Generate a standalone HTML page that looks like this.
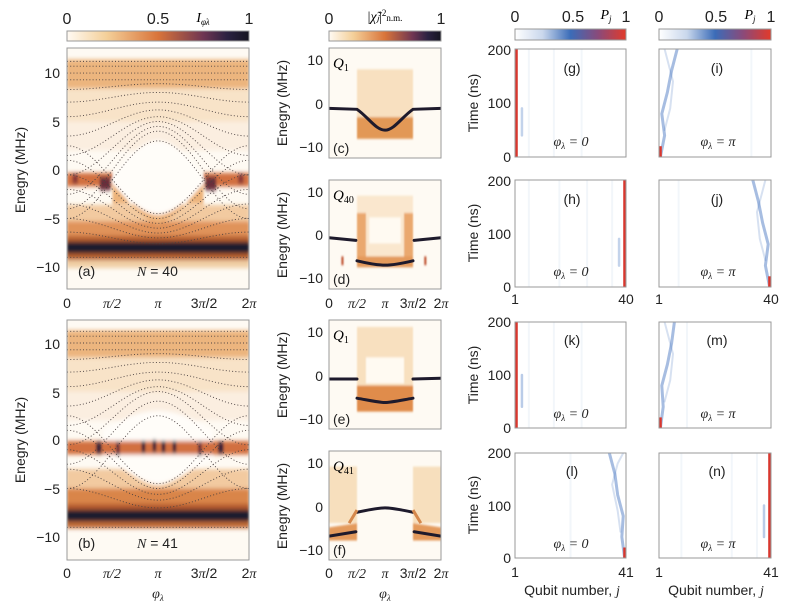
<!DOCTYPE html>
<html><head><meta charset="utf-8"><style>
html,body{margin:0;padding:0;background:#fff;}
svg{display:block;font-family:"Liberation Sans",sans-serif;}
.t{font-size:14px;fill:#222;}
.cb{font-size:16px;fill:#222;}
.it{font-family:"Liberation Serif",serif;font-style:italic;}
.d{fill:none;stroke:#4a4040;stroke-width:0.9;stroke-dasharray:1 2.2;vector-effect:non-scaling-stroke;}
.ln{fill:none;stroke:#1e1a2c;stroke-width:3;vector-effect:non-scaling-stroke;stroke-linecap:round}
.bl{fill:none;stroke:#3d6fbe;vector-effect:non-scaling-stroke;stroke-linecap:round}
.fr{fill:none;stroke:#999;stroke-width:1}
</style></head><body>
<svg width="789" height="612" viewBox="0 0 789 612" xmlns="http://www.w3.org/2000/svg">
<defs>
<linearGradient id="go" x1="0" x2="1" y1="0" y2="0">
<stop offset="0" stop-color="#fffaf3"/><stop offset="0.22" stop-color="#f4cf98"/><stop offset="0.5" stop-color="#d9743a"/><stop offset="0.75" stop-color="#6e3552"/><stop offset="0.88" stop-color="#2c2242"/><stop offset="1" stop-color="#151520"/>
</linearGradient>
<linearGradient id="gb" x1="0" x2="1" y1="0" y2="0">
<stop offset="0" stop-color="#ffffff"/><stop offset="0.25" stop-color="#c9d7ec"/><stop offset="0.5" stop-color="#3b6cb8"/><stop offset="0.75" stop-color="#8a4a7a"/><stop offset="1" stop-color="#e23a2a"/>
</linearGradient>
<filter id="fb" filterUnits="userSpaceOnUse" x="-10" y="-16" width="120" height="32"><feGaussianBlur stdDeviation="0.8 0.22"/></filter>
</defs>

<!-- colorbars -->
<rect x="67" y="31" width="182" height="10" fill="url(#go)" stroke="#999"/>
<text class="cb" x="67" y="24" text-anchor="middle">0</text>
<text class="cb" x="158" y="24" text-anchor="middle">0.5</text>
<text class="cb" x="249" y="24" text-anchor="middle">1</text>
<text class="it" x="203" y="22" font-size="14" text-anchor="middle">I<tspan font-size="9" dy="3">φλ</tspan></text>

<rect x="329" y="31" width="112" height="10" fill="url(#go)" stroke="#999"/>
<text class="cb" x="329" y="24" text-anchor="middle">0</text>
<text class="cb" x="441" y="24" text-anchor="middle">1</text>
<text x="385" y="21" font-size="14" text-anchor="middle" font-family="Liberation Serif,serif">|<tspan font-style="italic">χ̃ⱼ</tspan>|<tspan font-size="9" dy="-5">2</tspan><tspan font-size="9" dy="5">n.m.</tspan></text>

<rect x="515" y="29" width="111" height="11" fill="url(#gb)" stroke="#999"/>
<text class="cb" x="515" y="22" text-anchor="middle">0</text>
<text class="cb" x="573" y="22" text-anchor="middle">0.5</text>
<text class="cb" x="626" y="22" text-anchor="middle">1</text>
<text class="it" x="606" y="19" font-size="14" text-anchor="middle">P<tspan font-size="9" dy="3">j</tspan></text>

<rect x="659" y="29" width="112" height="11" fill="url(#gb)" stroke="#999"/>
<text class="cb" x="659" y="22" text-anchor="middle">0</text>
<text class="cb" x="716" y="22" text-anchor="middle">0.5</text>
<text class="cb" x="771" y="22" text-anchor="middle">1</text>
<text class="it" x="750" y="19" font-size="14" text-anchor="middle">P<tspan font-size="9" dy="3">j</tspan></text>

<!-- Panel a -->
<svg x="67" y="48" width="182" height="241" viewBox="0 -12.58 100 24.85" preserveAspectRatio="none">
<rect x="0" y="-12.6" width="100" height="25" fill="#fefaf3"/>
<g filter="url(#fb)">
<rect x="0" y="-11.4" width="100" height="3" fill="#ecb57e"/>
<rect x="0" y="-8.4" width="100" height="3.5" fill="#f8e3c8"/>
<rect x="0" y="-5" width="100" height="3" fill="#fbeee0"/>
<rect x="0" y="3.6" width="100" height="2" fill="#f2caa0"/>
<rect x="0" y="5.3" width="100" height="2" fill="#e0935a"/>
<rect x="0" y="6.8" width="100" height="0.8" fill="#b8602f"/>
<rect x="0" y="7.4" width="100" height="1.3" fill="#1f1a2e"/>
<rect x="0" y="8.6" width="100" height="0.7" fill="#b8602f"/>
<rect x="0" y="9.3" width="100" height="0.8" fill="#f1cfa5"/>
<rect x="0" y="0.3" width="25" height="1.4" fill="#d27040"/>
<rect x="75" y="0.3" width="25" height="1.4" fill="#d27040"/>
<rect x="18" y="0.7" width="6" height="1.4" fill="#6b2f3a"/>
<rect x="76" y="0.7" width="6" height="1.4" fill="#6b2f3a"/>
<rect x="3" y="0.4" width="3" height="1" fill="#8b3a38"/>
<rect x="94" y="0.4" width="3" height="1" fill="#8b3a38"/>
<path d="M25,1.4 C33,3 42,5.2 50,5.5 C58,5.2 67,3 75,1.4 L75,3.5 L25,3.5Z" fill="#edb47c"/>
<path d="M24,1.2 C33,-1.5 42,-3 50,-3 C58,-3 67,-1.5 76,1.2 C67,3 58,4.6 50,4.6 C42,4.6 33,3 24,1.2 Z" fill="#fffdf9"/>
</g>
<g>
<path class="d" d="M0,-2.5 C18.2,-2.5 31.8,4.5 50,4.5 C68.2,4.5 81.8,-2.5 100,-2.5"/>
<path class="d" d="M0,-1 C18.2,-1 31.8,5 50,5 C68.2,5 81.8,-1 100,-1"/>
<path class="d" d="M0,0.5 C18.2,0.5 31.8,5.5 50,5.5 C68.2,5.5 81.8,0.5 100,0.5"/>
<path class="d" d="M0,2 C18.2,2 31.8,6 50,6 C68.2,6 81.8,2 100,2"/>
<path class="d" d="M0,3.5 C18.2,3.5 31.8,6.5 50,6.5 C68.2,6.5 81.8,3.5 100,3.5"/>
<path class="d" d="M0,5 C18.2,5 31.8,7 50,7 C68.2,7 81.8,5 100,5"/>
<path class="d" d="M0,6.4 C18.2,6.4 31.8,7.6 50,7.6 C68.2,7.6 81.8,6.4 100,6.4"/>
<path class="d" d="M0,9 L100,9"/>
<path class="d" d="M0,5 C18.2,5 31.8,-3 50,-3 C68.2,-3 81.8,5 100,5"/>
<path class="d" d="M0,4 C18.2,4 31.8,-4 50,-4 C68.2,-4 81.8,4 100,4"/>
<path class="d" d="M0,2.5 C18.2,2.5 31.8,-4.5 50,-4.5 C68.2,-4.5 81.8,2.5 100,2.5"/>
<path class="d" d="M0,0.5 C18.2,0.5 31.8,-5 50,-5 C68.2,-5 81.8,0.5 100,0.5"/>
<path class="d" d="M0,-1.5 C18.2,-1.5 31.8,-5.5 50,-5.5 C68.2,-5.5 81.8,-1.5 100,-1.5"/>
<path class="d" d="M0,-3.5 C18.2,-3.5 31.8,-6.2 50,-6.2 C68.2,-6.2 81.8,-3.5 100,-3.5"/>
<path class="d" d="M0,-5.5 C18.2,-5.5 31.8,-7 50,-7 C68.2,-7 81.8,-5.5 100,-5.5"/>
<path class="d" d="M0,-7 C18.2,-7 31.8,-8 50,-8 C68.2,-8 81.8,-7 100,-7"/>
<path class="d" d="M0,-8.3 C18.2,-8.3 31.8,-8.9 50,-8.9 C68.2,-8.9 81.8,-8.3 100,-8.3"/>
<path class="d" d="M0,-9.3 L100,-9.3"/><path class="d" d="M0,-10 L100,-10"/><path class="d" d="M0,-10.7 L100,-10.7"/><path class="d" d="M0,-11.2 L100,-11.2"/>
</g>
</svg>
<rect class="fr" x="67" y="48" width="182" height="241"/>
<text class="t" x="60" y="78" text-anchor="end">10</text>
<text class="t" x="60" y="127" text-anchor="end">5</text>
<text class="t" x="60" y="175" text-anchor="end">0</text>
<text class="t" x="60" y="224" text-anchor="end">−5</text>
<text class="t" x="60" y="272" text-anchor="end">−10</text>
<text class="t" x="78" y="276" font-size="16">(a)</text>
<text class="t" x="137" y="276" font-size="16"><tspan class="it">N</tspan> = 40</text>
<text class="t" x="67" y="308" text-anchor="middle">0</text>
<text class="t it" x="112" y="308" text-anchor="middle">π/2</text>
<text class="t it" x="158" y="308" text-anchor="middle">π</text>
<text class="t" x="204" y="308" text-anchor="middle">3<tspan class="it">π</tspan>/2</text>
<text class="t" x="249" y="308" text-anchor="middle">2<tspan class="it">π</tspan></text>
<text class="t" transform="translate(25,170) rotate(-90)" text-anchor="middle" font-size="15">Enegry (MHz)</text>

<!-- Panel b -->
<svg x="67" y="320" width="182" height="240" viewBox="0 -12.37 100 24.74" preserveAspectRatio="none">
<rect x="0" y="-12.5" width="100" height="25" fill="#fefaf3"/>
<g filter="url(#fb)">
<rect x="0" y="-11.3" width="100" height="2.8" fill="#ecb57e"/>
<rect x="0" y="-8.5" width="100" height="3.5" fill="#f8e3c8"/>
<rect x="0" y="-5" width="100" height="3" fill="#fbeee0"/>
<rect x="0" y="3" width="100" height="2.2" fill="#f2caa0"/>
<rect x="0" y="5" width="100" height="2" fill="#d98549"/>
<rect x="0" y="6.6" width="100" height="0.8" fill="#b35a2e"/>
<rect x="0" y="7.2" width="100" height="1.3" fill="#1f1a2e"/>
<rect x="0" y="8.4" width="100" height="0.7" fill="#c06a38"/>
<path d="M20,-1 C33,-2.5 42,-3 50,-3 C58,-3 67,-2.5 80,-1 L80,2 C67,3 58,4.6 50,4.6 C42,4.6 33,3 20,2 Z" fill="#fffdf9"/>
<rect x="0" y="0.1" width="100" height="1.4" fill="#d27040"/>
<rect x="16" y="0.2" width="3" height="1.2" fill="#3b2238"/>
<rect x="41" y="0.1" width="2" height="1.2" fill="#3b2238"/>
<rect x="47" y="0" width="2" height="1.2" fill="#3b2238"/>
<rect x="52" y="0.1" width="2" height="1.2" fill="#3b2238"/>
<rect x="58" y="0.1" width="2" height="1.2" fill="#3b2238"/>
<rect x="83" y="0.2" width="3" height="1.2" fill="#3b2238"/>
<rect x="27" y="0.2" width="2" height="1.4" fill="#6b2f3a"/>
<rect x="72" y="0.2" width="2" height="1.4" fill="#6b2f3a"/>
</g>
<g>
<path class="d" d="M0,-2.5 C18.2,-2.5 31.8,4.5 50,4.5 C68.2,4.5 81.8,-2.5 100,-2.5"/>
<path class="d" d="M0,-1 C18.2,-1 31.8,5 50,5 C68.2,5 81.8,-1 100,-1"/>
<path class="d" d="M0,1 C18.2,1 31.8,5.6 50,5.6 C68.2,5.6 81.8,1 100,1"/>
<path class="d" d="M0,3 C18.2,3 31.8,6.2 50,6.2 C68.2,6.2 81.8,3 100,3"/>
<path class="d" d="M0,5 C18.2,5 31.8,7 50,7 C68.2,7 81.8,5 100,5"/>
<path class="d" d="M0,9 L100,9"/>
<path class="d" d="M0,5 C18.2,5 31.8,-2.5 50,-2.5 C68.2,-2.5 81.8,5 100,5"/>
<path class="d" d="M0,2.5 C18.2,2.5 31.8,-4 50,-4 C68.2,-4 81.8,2.5 100,2.5"/>
<path class="d" d="M0,0.5 C18.2,0.5 31.8,-5 50,-5 C68.2,-5 81.8,0.5 100,0.5"/>
<path class="d" d="M0,-1.5 C18.2,-1.5 31.8,-5.5 50,-5.5 C68.2,-5.5 81.8,-1.5 100,-1.5"/>
<path class="d" d="M0,-3.5 C18.2,-3.5 31.8,-6.2 50,-6.2 C68.2,-6.2 81.8,-3.5 100,-3.5"/>
<path class="d" d="M0,-5.5 C18.2,-5.5 31.8,-7 50,-7 C68.2,-7 81.8,-5.5 100,-5.5"/>
<path class="d" d="M0,-7 C18.2,-7 31.8,-8 50,-8 C68.2,-8 81.8,-7 100,-7"/>
<path class="d" d="M0,-8.3 C18.2,-8.3 31.8,-8.9 50,-8.9 C68.2,-8.9 81.8,-8.3 100,-8.3"/>
<path class="d" d="M0,-9.3 L100,-9.3"/><path class="d" d="M0,-10 L100,-10"/><path class="d" d="M0,-10.7 L100,-10.7"/><path class="d" d="M0,-11.2 L100,-11.2"/>
</g>
</svg>
<rect class="fr" x="67" y="320" width="182" height="240"/>
<text class="t" x="60" y="349" text-anchor="end">10</text>
<text class="t" x="60" y="398" text-anchor="end">5</text>
<text class="t" x="60" y="445" text-anchor="end">0</text>
<text class="t" x="60" y="494" text-anchor="end">−5</text>
<text class="t" x="60" y="542" text-anchor="end">−10</text>
<text class="t" x="78" y="548" font-size="16">(b)</text>
<text class="t" x="137" y="548" font-size="16"><tspan class="it">N</tspan> = 41</text>
<text class="t" x="67" y="578" text-anchor="middle">0</text>
<text class="t it" x="112" y="578" text-anchor="middle">π/2</text>
<text class="t it" x="158" y="578" text-anchor="middle">π</text>
<text class="t" x="204" y="578" text-anchor="middle">3<tspan class="it">π</tspan>/2</text>
<text class="t" x="249" y="578" text-anchor="middle">2<tspan class="it">π</tspan></text>
<text class="t it" x="158" y="598" text-anchor="middle">φ<tspan font-size="9" dy="3">λ</tspan></text>
<text class="t" transform="translate(25,440) rotate(-90)" text-anchor="middle" font-size="15">Enegry (MHz)</text>

<!-- Panel c -->
<svg x="329" y="48" width="112" height="110" viewBox="0 -12.9 100 25.3" preserveAspectRatio="none">
<rect x="0" y="-13" width="100" height="26" fill="#fefaf3"/>
<g filter="url(#fb)">
<rect x="25" y="-8" width="50" height="11" fill="#f8e0c0"/>
<rect x="25" y="3" width="50" height="5" fill="#e29857"/>
</g>
<path class="ln" d="M0,1 L25,1.2 C35,3 42,6 50,6 C58,6 65,3 75,1.2 L100,1"/>
</svg>
<rect class="fr" x="329" y="48" width="112" height="110"/>
<text class="t" x="323" y="65" text-anchor="end">10</text>
<text class="t" x="323" y="109" text-anchor="end">0</text>
<text class="t" x="323" y="152" text-anchor="end">−10</text>
<text x="333" y="68" font-size="15" font-family="Liberation Serif,serif" font-style="italic">Q<tspan font-size="10" dy="3" font-style="normal">1</tspan></text>
<text class="t" x="333" y="153" font-size="16">(c)</text>
<text class="t" transform="translate(287,103) rotate(-90)" text-anchor="middle">Enegry (MHz)</text>

<!-- Panel d -->
<svg x="329" y="180" width="112" height="109" viewBox="0 -12.6 100 25.1" preserveAspectRatio="none">
<rect x="0" y="-13" width="100" height="26" fill="#fefaf3"/>
<g filter="url(#fb)">
<rect x="25" y="-9" width="50" height="16" fill="#fae7ce"/>
<rect x="25" y="-5" width="8" height="12" fill="#eaa86e"/>
<rect x="67" y="-5" width="8" height="12" fill="#eaa86e"/>
<rect x="25" y="5" width="50" height="2.5" fill="#e49a5c"/>
<rect x="36" y="-4" width="28" height="6" fill="#fffaf2"/>
<rect x="11" y="5" width="2" height="2" fill="#c25a3a"/>
<rect x="85" y="5" width="2" height="2" fill="#c25a3a"/>
</g>
<path class="ln" d="M0,0.7 L24,1.3 M25,6 C38,6.8 45,7 50,7 C55,7 62,6.8 75,6 M76,1.3 L100,0.7"/>
</svg>
<rect class="fr" x="329" y="180" width="112" height="109"/>
<text class="t" x="323" y="197" text-anchor="end">10</text>
<text class="t" x="323" y="240" text-anchor="end">0</text>
<text class="t" x="323" y="283" text-anchor="end">−10</text>
<text x="333" y="200" font-size="15" font-family="Liberation Serif,serif" font-style="italic">Q<tspan font-size="10" dy="3" font-style="normal">40</tspan></text>
<text class="t" x="333" y="284" font-size="16">(d)</text>
<text class="t" transform="translate(287,235) rotate(-90)" text-anchor="middle">Enegry (MHz)</text>
<text class="t" x="329" y="308" text-anchor="middle">0</text>
<text class="t it" x="357" y="308" text-anchor="middle">π/2</text>
<text class="t it" x="385" y="308" text-anchor="middle">π</text>
<text class="t" x="413" y="308" text-anchor="middle">3<tspan class="it">π</tspan>/2</text>
<text class="t" x="441" y="308" text-anchor="middle">2<tspan class="it">π</tspan></text>

<!-- Panel e -->
<svg x="329" y="320" width="112" height="109" viewBox="0 -12.6 100 25.1" preserveAspectRatio="none">
<rect x="0" y="-13" width="100" height="26" fill="#fefaf3"/>
<g filter="url(#fb)">
<rect x="25" y="-11" width="50" height="14" fill="#f8e0bf"/>
<rect x="33" y="-4" width="34" height="6" fill="#fffaf2"/>
<rect x="25" y="2.5" width="50" height="6" fill="#e08c4c"/>
</g>
<path class="ln" d="M0,1 L25,1 M25,5.4 C38,6 45,6.4 50,6.4 C55,6.4 62,6 75,5.4 M75,1 L100,0.8"/>
</svg>
<rect class="fr" x="329" y="320" width="112" height="109"/>
<text class="t" x="323" y="337" text-anchor="end">10</text>
<text class="t" x="323" y="381" text-anchor="end">0</text>
<text class="t" x="323" y="424" text-anchor="end">−10</text>
<text x="333" y="340" font-size="15" font-family="Liberation Serif,serif" font-style="italic">Q<tspan font-size="10" dy="3" font-style="normal">1</tspan></text>
<text class="t" x="333" y="424" font-size="16">(e)</text>
<text class="t" transform="translate(287,375) rotate(-90)" text-anchor="middle">Enegry (MHz)</text>

<!-- Panel f -->
<svg x="329" y="451" width="112" height="109" viewBox="0 -12.6 100 25.1" preserveAspectRatio="none">
<rect x="0" y="-13" width="100" height="26" fill="#fefaf3"/>
<g filter="url(#fb)">
<rect x="0" y="-9" width="25" height="13" fill="#f7dfbd"/>
<rect x="75" y="-9" width="25" height="13" fill="#f7dfbd"/>
<path d="M0,5 L25,4 L25,8 L0,8Z" fill="#e49a5c"/>
<path d="M75,4 L100,5 L100,8 L75,8Z" fill="#e49a5c"/>
</g>
<path class="ln" d="M0,7 L24,6 M25,1.5 C38,0.8 45,0.5 50,0.5 C55,0.5 62,0.8 75,1.5 M76,6 L100,7"/>
<path fill="none" stroke="#d5884c" stroke-width="3" vector-effect="non-scaling-stroke" d="M25,1 L18,4 M75,1 L82,4"/>
</svg>
<rect class="fr" x="329" y="451" width="112" height="109"/>
<text class="t" x="323" y="468" text-anchor="end">10</text>
<text class="t" x="323" y="512" text-anchor="end">0</text>
<text class="t" x="323" y="555" text-anchor="end">−10</text>
<text x="333" y="471" font-size="15" font-family="Liberation Serif,serif" font-style="italic">Q<tspan font-size="10" dy="3" font-style="normal">41</tspan></text>
<text class="t" x="333" y="555" font-size="16">(f)</text>
<text class="t" transform="translate(287,506) rotate(-90)" text-anchor="middle">Enegry (MHz)</text>
<text class="t" x="329" y="578" text-anchor="middle">0</text>
<text class="t it" x="357" y="578" text-anchor="middle">π/2</text>
<text class="t it" x="385" y="578" text-anchor="middle">π</text>
<text class="t" x="413" y="578" text-anchor="middle">3<tspan class="it">π</tspan>/2</text>
<text class="t" x="441" y="578" text-anchor="middle">2<tspan class="it">π</tspan></text>
<text class="t it" x="385" y="598" text-anchor="middle">φ<tspan font-size="9" dy="3">λ</tspan></text>

<!-- Right panels -->
<svg x="515" y="49" width="111" height="108" viewBox="0 0 40 200" preserveAspectRatio="none">
<rect width="40" height="200" fill="#fff"/>
<path class="bl" stroke-width="2.5" opacity="0.3" d="M2.5,110 L2.5,160"/>
<path class="bl" stroke-width="2" opacity="0.06" d="M5,0 L5,200 M14,0 L14,200 M24,0 L24,200"/>
<rect x="0" y="0" width="1" height="200" fill="#d9372e"/>
</svg>
<svg x="659" y="49" width="112" height="108" viewBox="0 0 40 200" preserveAspectRatio="none">
<rect width="40" height="200" fill="#fff"/>
<path class="bl" stroke-width="3" opacity="0.45" d="M0.5,200 L2,160 L1,120 L3,80 L4.5,40 L6.5,0"/>
<path class="bl" stroke-width="2" opacity="0.2" d="M2,150 L4,110 L5,60 L3,20 L2,0"/>
<path class="bl" stroke-width="2" opacity="0.06" d="M33,0 L33,200"/>
<rect x="0" y="180" width="1" height="20" fill="#d9372e"/>
</svg>
<svg x="515" y="180" width="111" height="107" viewBox="0 0 40 200" preserveAspectRatio="none">
<rect width="40" height="200" fill="#fff"/>
<path class="bl" stroke-width="2.5" opacity="0.3" d="M37.5,110 L37.5,160"/>
<path class="bl" stroke-width="2" opacity="0.06" d="M35,0 L35,200 M26,0 L26,200 M16,0 L16,200 M5,0 L5,200"/>
<rect x="39" y="0" width="1" height="200" fill="#d9372e"/>
</svg>
<svg x="659" y="180" width="112" height="107" viewBox="0 0 40 200" preserveAspectRatio="none">
<rect width="40" height="200" fill="#fff"/>
<path class="bl" stroke-width="3" opacity="0.45" d="M39.5,200 L38,160 L39,120 L37,80 L35.5,40 L33.5,0"/>
<path class="bl" stroke-width="2" opacity="0.2" d="M38,150 L36,110 L35,60 L37,20 L38,0"/>
<path class="bl" stroke-width="2" opacity="0.06" d="M7,0 L7,200"/>
<rect x="39" y="180" width="1" height="20" fill="#d9372e"/>
</svg>
<svg x="515" y="322" width="111" height="106" viewBox="0 0 40 200" preserveAspectRatio="none">
<rect width="40" height="200" fill="#fff"/>
<path class="bl" stroke-width="2.5" opacity="0.35" d="M2.5,100 L2.5,160"/>
<path class="bl" stroke-width="2" opacity="0.06" d="M5,0 L5,200 M14,0 L14,200 M24,0 L24,200"/>
<rect x="0" y="0" width="1" height="200" fill="#d9372e"/>
</svg>
<svg x="659" y="322" width="112" height="106" viewBox="0 0 40 200" preserveAspectRatio="none">
<rect width="40" height="200" fill="#fff"/>
<path class="bl" stroke-width="3" opacity="0.45" d="M0.5,200 L1.5,160 L1,120 L3,80 L4.5,40 L5.5,0"/>
<path class="bl" stroke-width="2" opacity="0.2" d="M2,150 L4,110 L5,60 L3,20 L2,0"/>
<path class="bl" stroke-width="2" opacity="0.06" d="M10,0 L10,200"/>
<rect x="0" y="180" width="1" height="20" fill="#d9372e"/>
</svg>
<svg x="515" y="453" width="111" height="105" viewBox="0 0 40 200" preserveAspectRatio="none">
<rect width="40" height="200" fill="#fff"/>
<path class="bl" stroke-width="3" opacity="0.45" d="M39.5,200 L38.5,160 L39,120 L37,80 L36,40 L34,0"/>
<path class="bl" stroke-width="2" opacity="0.2" d="M38,150 L37,110 L35,60 L37,20 L39,0"/>
<path class="bl" stroke-width="2" opacity="0.06" d="M20,0 L20,200"/>
<rect x="39" y="180" width="1" height="20" fill="#d9372e"/>
</svg>
<svg x="659" y="453" width="112" height="105" viewBox="0 0 40 200" preserveAspectRatio="none">
<rect width="40" height="200" fill="#fff"/>
<path class="bl" stroke-width="2.5" opacity="0.35" d="M37.5,100 L37.5,160"/>
<path class="bl" stroke-width="2" opacity="0.06" d="M35,0 L35,200 M26,0 L26,200 M8,0 L8,200"/>
<rect x="39" y="0" width="1" height="200" fill="#d9372e"/>
</svg>

<g class="fr">
<rect x="515" y="49" width="111" height="108"/><rect x="659" y="49" width="112" height="108"/>
<rect x="515" y="180" width="111" height="107"/><rect x="659" y="180" width="112" height="107"/>
<rect x="515" y="322" width="111" height="106"/><rect x="659" y="322" width="112" height="106"/>
<rect x="515" y="453" width="111" height="105"/><rect x="659" y="453" width="112" height="105"/>
</g>

<g class="t">
<text x="511" y="55" text-anchor="end">200</text><text x="511" y="108" text-anchor="end">100</text><text x="511" y="162" text-anchor="end">0</text>
<text x="511" y="186" text-anchor="end">200</text><text x="511" y="239" text-anchor="end">100</text><text x="511" y="292" text-anchor="end">0</text>
<text x="511" y="327" text-anchor="end">200</text><text x="511" y="380" text-anchor="end">100</text><text x="511" y="433" text-anchor="end">0</text>
<text x="511" y="458" text-anchor="end">200</text><text x="511" y="511" text-anchor="end">100</text><text x="511" y="563" text-anchor="end">0</text>
</g>
<text class="t" transform="translate(478,103) rotate(-90)" text-anchor="middle">Time (ns)</text>
<text class="t" transform="translate(478,233) rotate(-90)" text-anchor="middle">Time (ns)</text>
<text class="t" transform="translate(478,375) rotate(-90)" text-anchor="middle">Time (ns)</text>
<text class="t" transform="translate(478,505) rotate(-90)" text-anchor="middle">Time (ns)</text>

<g class="t" font-size="17" text-anchor="middle">
<text x="572" y="73">(g)</text><text x="717" y="73">(i)</text>
<text x="572" y="204">(h)</text><text x="717" y="204">(j)</text>
<text x="572" y="345">(k)</text><text x="717" y="345">(m)</text>
<text x="572" y="476">(l)</text><text x="717" y="476">(n)</text>
</g>
<g class="t it" font-size="14" text-anchor="middle">
<text x="571" y="146">φ<tspan font-size="9" dy="3">λ</tspan><tspan dy="-3"> = 0</tspan></text>
<text x="718" y="146">φ<tspan font-size="9" dy="3">λ</tspan><tspan dy="-3"> = π</tspan></text>
<text x="571" y="276">φ<tspan font-size="9" dy="3">λ</tspan><tspan dy="-3"> = 0</tspan></text>
<text x="718" y="276">φ<tspan font-size="9" dy="3">λ</tspan><tspan dy="-3"> = π</tspan></text>
<text x="571" y="418">φ<tspan font-size="9" dy="3">λ</tspan><tspan dy="-3"> = 0</tspan></text>
<text x="718" y="418">φ<tspan font-size="9" dy="3">λ</tspan><tspan dy="-3"> = π</tspan></text>
<text x="571" y="548">φ<tspan font-size="9" dy="3">λ</tspan><tspan dy="-3"> = 0</tspan></text>
<text x="718" y="548">φ<tspan font-size="9" dy="3">λ</tspan><tspan dy="-3"> = π</tspan></text>
</g>
<g class="t" font-size="15" text-anchor="middle">
<text x="515" y="304">1</text><text x="626" y="304">40</text>
<text x="659" y="304">1</text><text x="771" y="304">40</text>
<text x="515" y="577">1</text><text x="626" y="577">41</text>
<text x="659" y="577">1</text><text x="771" y="577">41</text>
</g>
<text class="t" x="572" y="595" text-anchor="middle">Qubit number, <tspan class="it">j</tspan></text>
<text class="t" x="716" y="595" text-anchor="middle">Qubit number, <tspan class="it">j</tspan></text>
</svg>
</body></html>
